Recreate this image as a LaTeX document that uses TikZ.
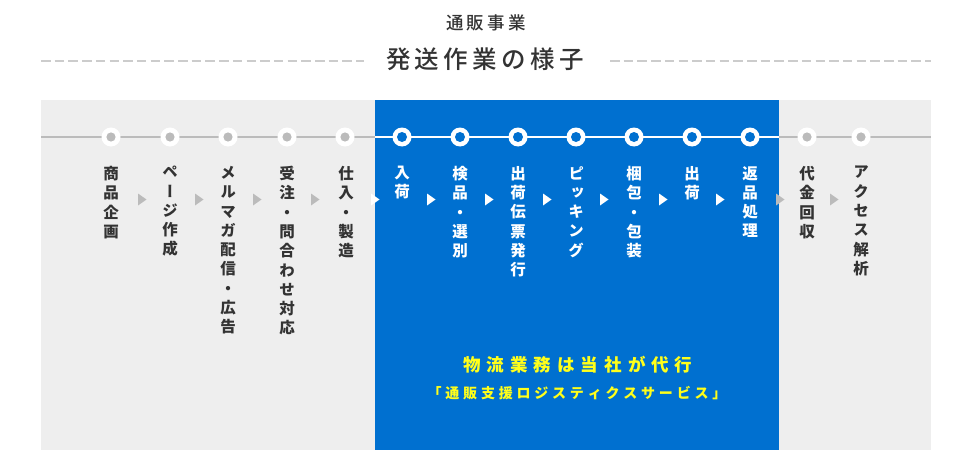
\documentclass[tikz,border=0pt]{standalone}
\usepackage{fontspec}
\setmainfont{Noto Sans CJK JP}
\newfontfamily\jpv[RawFeature={+vert}]{Noto Sans CJK JP}
\newfontfamily\jph{Noto Sans CJK JP}
\newfontfamily\jpm{Noto Sans CJK JP Medium}
\definecolor{bgray}{HTML}{EEEEEE}
\definecolor{bblue}{HTML}{0070D0}
\definecolor{lgray}{HTML}{BBBBBB}
\definecolor{dgray}{HTML}{333333}
\definecolor{dashgray}{HTML}{CCCCCC}
\definecolor{yel}{HTML}{FFFF1A}
\begin{document}
\begin{tikzpicture}[x=1pt,y=-1pt,
  vtext/.style={anchor=north, inner sep=0pt, align=center,
    font=\jpv\bfseries\fontsize{15.5}{19.3}\selectfont},
  gtext/.style={vtext, text=dgray},
  wtext/.style={vtext, text=white},
  gdot/.style={circle, fill=white, minimum size=19pt, inner sep=0pt,
    path picture={\fill[lgray] (path picture bounding box.center) circle (4.6pt);}},
  bdot/.style={circle, fill=white, minimum size=19pt, inner sep=0pt,
    path picture={\fill[bblue] (path picture bounding box.center) circle (5pt);}}
]
\useasboundingbox (0,0) rectangle (980,460);
\fill[white] (0,0) rectangle (980,460);
% titles
\node[inner sep=0pt, text=dgray, font=\jpm\fontsize{17.5}{20}\selectfont] (sub) at (486,23) {通\hspace{3pt}販\hspace{3pt}事\hspace{3pt}業};
\node[inner sep=0pt, text=dgray, font=\jpm\fontsize{24.5}{28}\selectfont] (title) at (485,59) {発\hspace{4.4pt}送\hspace{4.4pt}作\hspace{4.4pt}業\hspace{4.4pt}の\hspace{4.4pt}様\hspace{4.4pt}子};
\coordinate (dl1) at (41,61);
\coordinate (dl2) at (364,61);
\coordinate (dr1) at (610,61);
\coordinate (dr2) at (931,61);
\draw[dashgray, line width=2pt, dash pattern=on 9.5pt off 4.2pt] (dl1) -- (dl2);
\draw[dashgray, line width=2pt, dash pattern=on 9.5pt off 4.2pt] (dr1) -- (dr2);
% panels
\fill[bgray] (41,100) rectangle (931,450);
\fill[bblue] (375,100) rectangle (779,450);
% timeline
\coordinate (la) at (41,137);
\coordinate (lb) at (375,137);
\coordinate (lc) at (779,137);
\coordinate (ld) at (931,137);
\draw[lgray, line width=2pt] (la) -- (lb);
\draw[white, line width=2pt] (lb) -- (lc);
\draw[lgray, line width=2pt] (lc) -- (ld);
% dots
\node[gdot] (c1) at (111,137) {};
\node[gdot] (c2) at (170,137) {};
\node[gdot] (c3) at (228,137) {};
\node[gdot] (c4) at (287,137) {};
\node[gdot] (c5) at (345,137) {};
\node[bdot] (c6) at (402,137) {};
\node[bdot] (c7) at (460,137) {};
\node[bdot] (c8) at (518,137) {};
\node[bdot] (c9) at (576,137) {};
\node[bdot] (c10) at (634,137) {};
\node[bdot] (c11) at (692,137) {};
\node[bdot] (c12) at (750,137) {};
\node[gdot] (c13) at (807,137) {};
\node[gdot] (c14) at (861,137) {};
% labels
\node[gtext] (t1) at (111,166) {商\\品\\企\\画};
\node[gtext] (t2) at (170,166) {ペ\\ー\\ジ\\作\\成};
\node[gtext] (t3) at (228,166) {メ\\ル\\マ\\ガ\\配\\信\\・\\広\\告};
\node[gtext] (t4) at (287,166) {受\\注\\・\\問\\合\\わ\\せ\\対\\応};
\node[gtext] (t5) at (346,166) {仕\\入\\・\\製\\造};
\node[wtext] (t6) at (402,166) {入\\荷};
\node[wtext] (t7) at (460,166) {検\\品\\・\\選\\別};
\node[wtext] (t8) at (518,166) {出\\荷\\伝\\票\\発\\行};
\node[wtext] (t9) at (576,166) {ピ\\ッ\\キ\\ン\\グ};
\node[wtext] (t10) at (634,166) {梱\\包\\・\\包\\装};
\node[wtext] (t11) at (692,166) {出\\荷};
\node[wtext] (t12) at (750,166) {返\\品\\処\\理};
\node[gtext] (t13) at (807,166) {代\\金\\回\\収};
\node[gtext] (t14) at (861,166) {ア\\ク\\セ\\ス\\解\\析};
% arrows
\foreach \x/\c in {142/lgray,199/lgray,257/lgray,315/lgray,375/white,431/white,489/white,547/white,604/white,663/white,720/white,780/lgray,834/lgray}
  \fill[\c] (\x-4,193.5) -- (\x+4.5,199.5) -- (\x-4,205.5) -- cycle;
% bottom text
\node[inner sep=0pt, text=yel, font=\jph\bfseries\fontsize{17.5}{20}\selectfont] (m1) at (578,365)
  {物\hspace{6pt}流\hspace{6pt}業\hspace{6pt}務\hspace{6pt}は\hspace{6pt}当\hspace{6pt}社\hspace{6pt}が\hspace{6pt}代\hspace{6pt}行};
\node[inner sep=0pt, text=yel, font=\jph\bfseries\fontsize{14}{16}\selectfont] (m2) at (577,393)
  {「\hspace{3.8pt}通\hspace{3.8pt}販\hspace{3.8pt}支\hspace{3.8pt}援\hspace{3.8pt}ロ\hspace{3.8pt}ジ\hspace{3.8pt}ス\hspace{3.8pt}テ\hspace{3.8pt}ィ\hspace{3.8pt}ク\hspace{3.8pt}ス\hspace{3.8pt}サ\hspace{3.8pt}ー\hspace{3.8pt}ビ\hspace{3.8pt}ス\hspace{3.8pt}」};
\end{tikzpicture}
\end{document}
